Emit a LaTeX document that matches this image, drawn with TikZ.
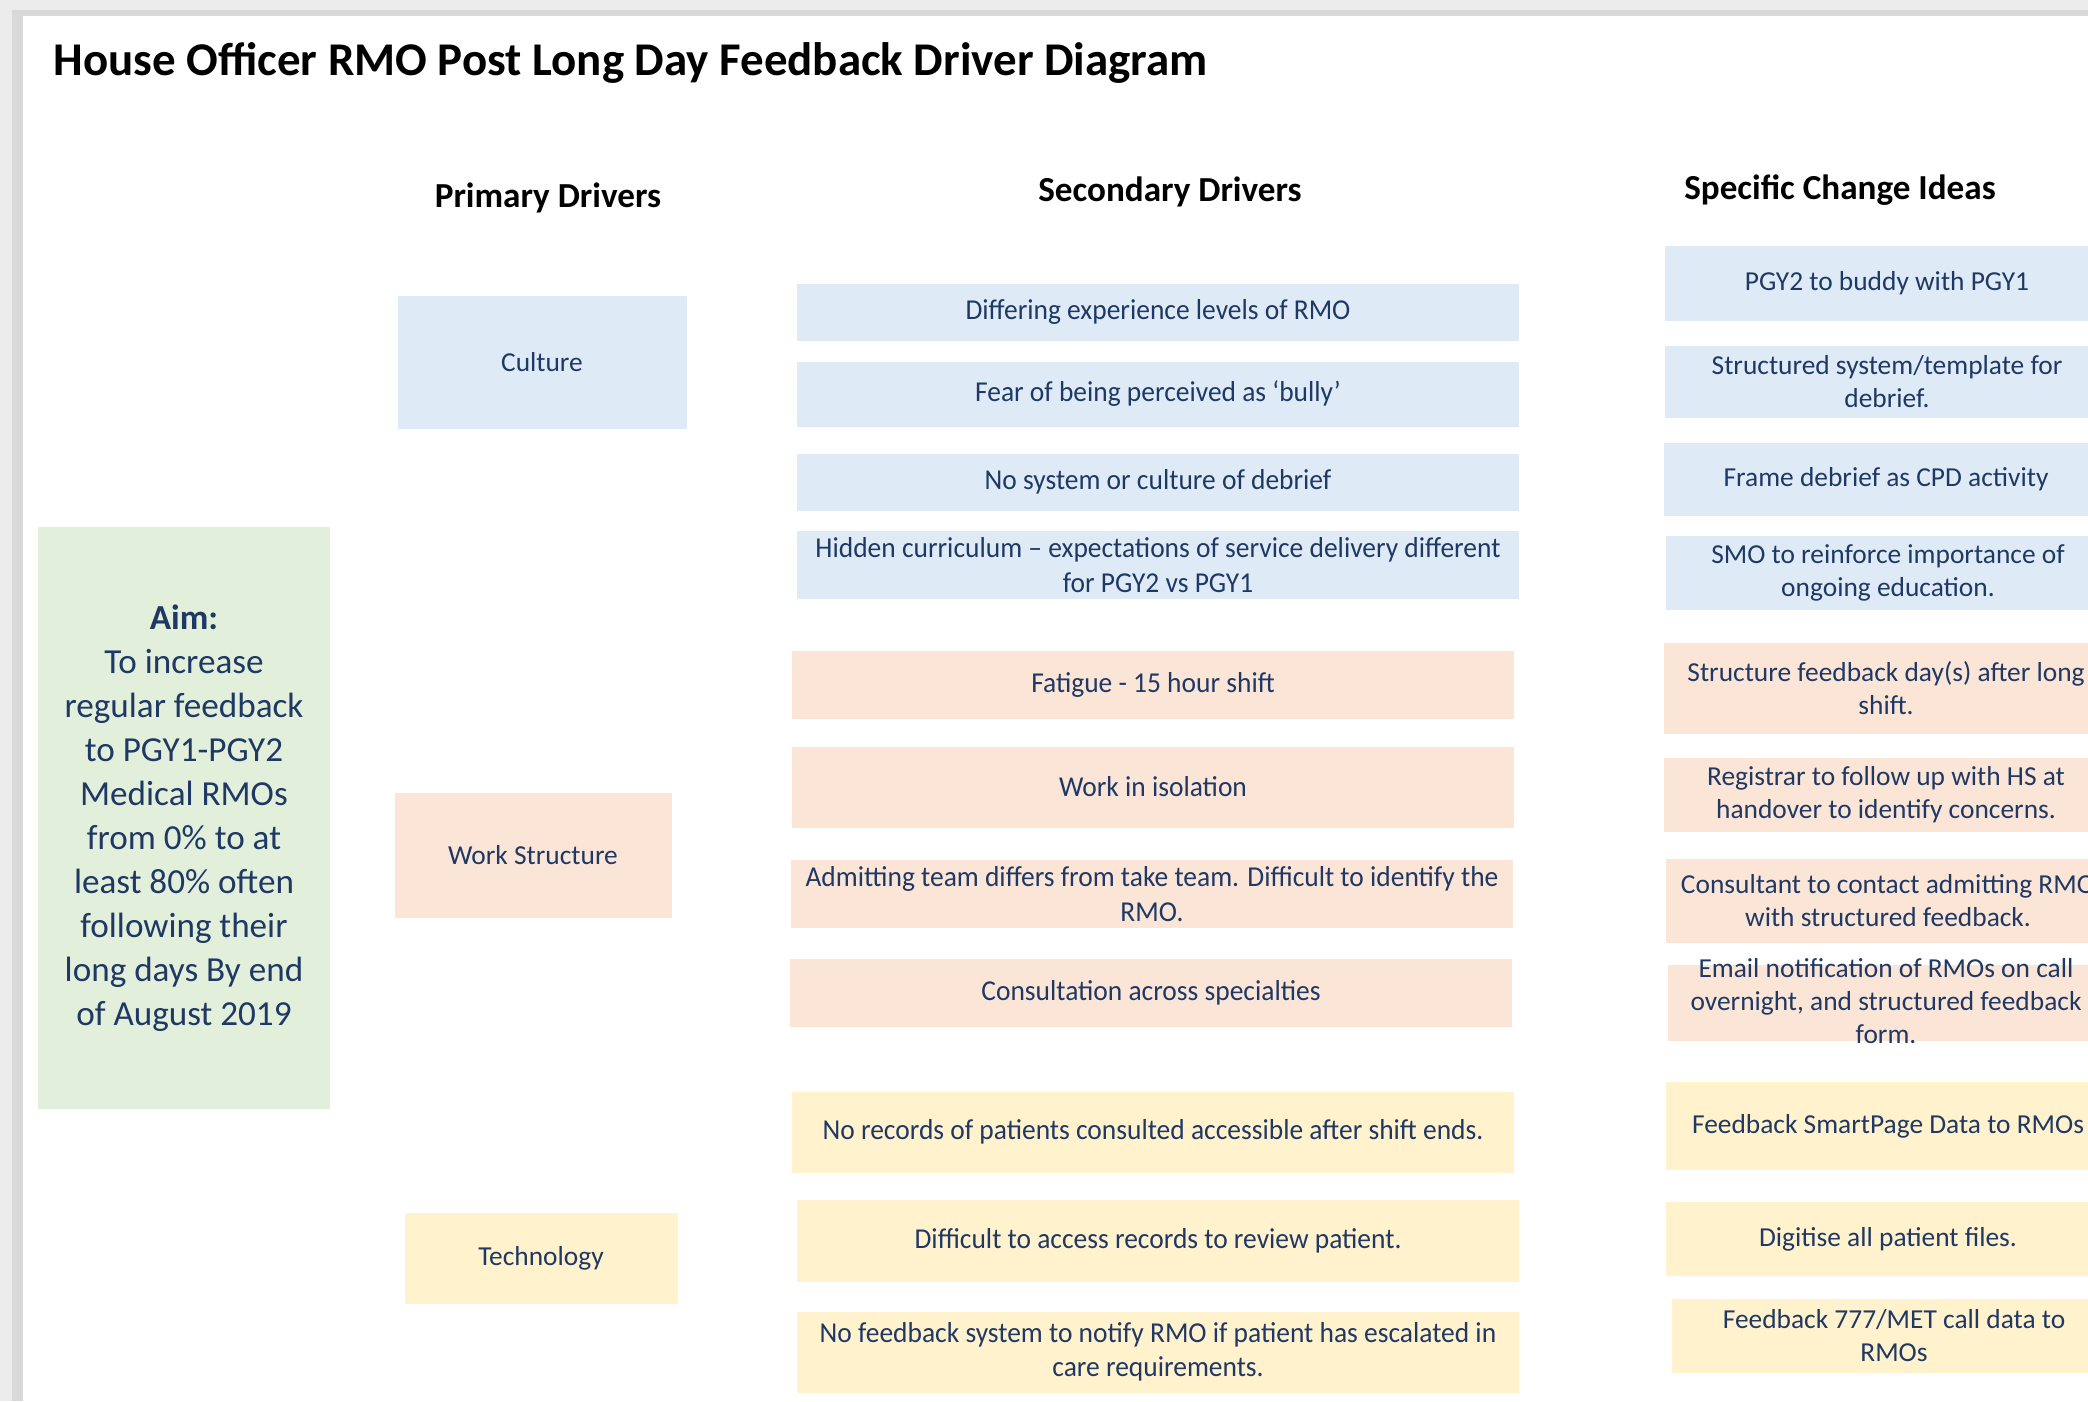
\documentclass[tikz,border=0pt]{standalone}
\usepackage{fontspec}
\setmainfont{Carlito}
\newfontfamily\narrowfont{Carlito}[FakeStretch=0.953]
\usetikzlibrary{positioning}
\definecolor{ink}{RGB}{31,56,100}
\definecolor{desk}{RGB}{236,236,236}
\definecolor{sky}{RGB}{222,235,247}
\definecolor{peach}{RGB}{251,229,214}
\definecolor{cream}{RGB}{255,242,204}
\definecolor{sage}{RGB}{226,239,218}
\tikzset{
  card/.style={fill=#1,text=ink,inner sep=0pt,align=center},
  card/.default=sky,
  primary/.style={card=#1,font=\fontsize{7.8}{9.5}\selectfont},
  primary/.default=sky,
  secondary/.style={card=#1,minimum width=72.2mm,font=\narrowfont\fontsize{8.2}{9.8}\selectfont},
  secondary/.default=sky,
  idea/.style={card=#1,minimum width=44.4mm,font=\fontsize{7.8}{9.4}\selectfont},
  idea/.default=sky,
  heading/.style={anchor=base,font=\bfseries\fontsize{10}{12}\selectfont},
}
\begin{document}
\begin{tikzpicture}[x=0.1mm,y=-0.1mm]
  \useasboundingbox (0,0) rectangle (2088,1401);
  \clip (0,0) rectangle (2088,1401);
  % sheet on a grey desk
  \fill[desk] (0,0) rectangle (2088,1401);
  \fill[desk!92!black] (12,10) rectangle (2088,1401);
  \fill[white] (23,16) rectangle (2088,1401);
  \node[anchor=base west,inner sep=0pt,font=\bfseries\fontsize{13.35}{15}\selectfont] (title) at (53,75)
    {House Officer RMO Post Long Day Feedback Driver Diagram};

  % column heads
  \node[heading] (hprim) at (548,207) {Primary Drivers};
  \node[heading] (hsec) at (1170,201) {Secondary Drivers};
  \node[heading] (hidea) at (1840,199) {Specific Change Ideas};

  % aim
  \node[card=sage,minimum width=29.2mm,minimum height=58.2mm,
    font=\fontsize{10}{12.5}\selectfont] (aim) at (184,818)
    {\textbf{Aim:}\\To increase\\regular feedback\\to PGY1-PGY2\\Medical RMOs\\from 0\% to at\\least 80\% often\\following their\\long days By end\\of August 2019};

  % primary drivers
  \node[primary,minimum width=28.9mm,minimum height=13.3mm] (culture) at (542,362) {Culture};
  \node[primary=peach,minimum width=27.7mm,minimum height=12.5mm] (work) at (533,855) {Work Structure};
  \node[primary=cream,minimum width=27.3mm,minimum height=9.1mm] (tech) at (541,1258) {Technology};

  % secondary drivers
  \node[secondary,minimum height=5.7mm] (sd1) at (1158,312) {Differing experience levels of RMO};
  \node[secondary,minimum height=6.5mm] (sd2) at (1158,394) {Fear of being perceived as ‘bully’};
  \node[secondary,minimum height=5.7mm] (sd3) at (1158,482) {No system or culture of debrief};
  \node[secondary,minimum height=6.8mm] (sd4) at (1158,565)
    {Hidden curriculum – expectations of service delivery different\\for PGY2 vs PGY1};
  \node[secondary=peach,minimum height=6.8mm] (sd5) at (1153,685) {Fatigue - 15 hour shift};
  \node[secondary=peach,minimum height=8.1mm] (sd6) at (1153,787) {Work in isolation};
  \node[secondary=peach,minimum height=6.8mm] (sd7) at (1152,894)
    {Admitting team differs from take team. Difficult to identify the\\RMO.};
  \node[secondary=peach,minimum height=6.8mm] (sd8) at (1151,993) {Consultation across specialties};
  \node[secondary=cream,minimum height=8.1mm] (sd9) at (1153,1132)
    {No records of patients consulted accessible after shift ends.};
  \node[secondary=cream,minimum height=8.2mm] (sd10) at (1158,1241) {Difficult to access records to review patient.};
  \node[secondary=cream,minimum height=8.1mm] (sd11) at (1158,1352)
    {No feedback system to notify RMO if patient has escalated in\\care requirements.};

  % change ideas
  \node[idea,minimum height=7.5mm] (ci1) at (1887,283) {PGY2 to buddy with PGY1};
  \node[idea,minimum height=7.2mm] (ci2) at (1887,382) {Structured system/template for\\debrief.};
  \node[idea,minimum height=7.3mm] (ci3) at (1886,479) {Frame debrief as CPD activity};
  \node[idea,minimum height=7.4mm] (ci4) at (1888,573) {SMO to reinforce importance of\\ongoing education.};
  \node[idea=peach,minimum height=9.1mm] (ci5) at (1886,688) {Structure feedback day(s) after long\\shift.};
  \node[idea=peach,minimum height=7.4mm] (ci6) at (1886,795) {Registrar to follow up with HS at\\handover to identify concerns.};
  \node[idea=peach,minimum height=8.4mm] (ci7) at (1888,901) {Consultant to contact admitting RMO\\with structured feedback.};
  \node[idea=peach,minimum height=7.6mm] (ci8) at (1890,1003) {};
  \node[text=ink,align=center,font=\fontsize{7.8}{9.4}\selectfont] (ci8text) at (1886,1001)
    {Email notification of RMOs on call\\overnight, and structured feedback\\form.};
  \node[idea=cream,minimum height=8.8mm] (ci9) at (1888,1126) {Feedback SmartPage Data to RMOs};
  \node[idea=cream,minimum height=7.4mm] (ci10) at (1888,1239) {Digitise all patient files.};
  \node[idea=cream,minimum height=7.4mm] (ci11) at (1894,1336) {Feedback 777/MET call data to\\RMOs};
\end{tikzpicture}
\end{document}
